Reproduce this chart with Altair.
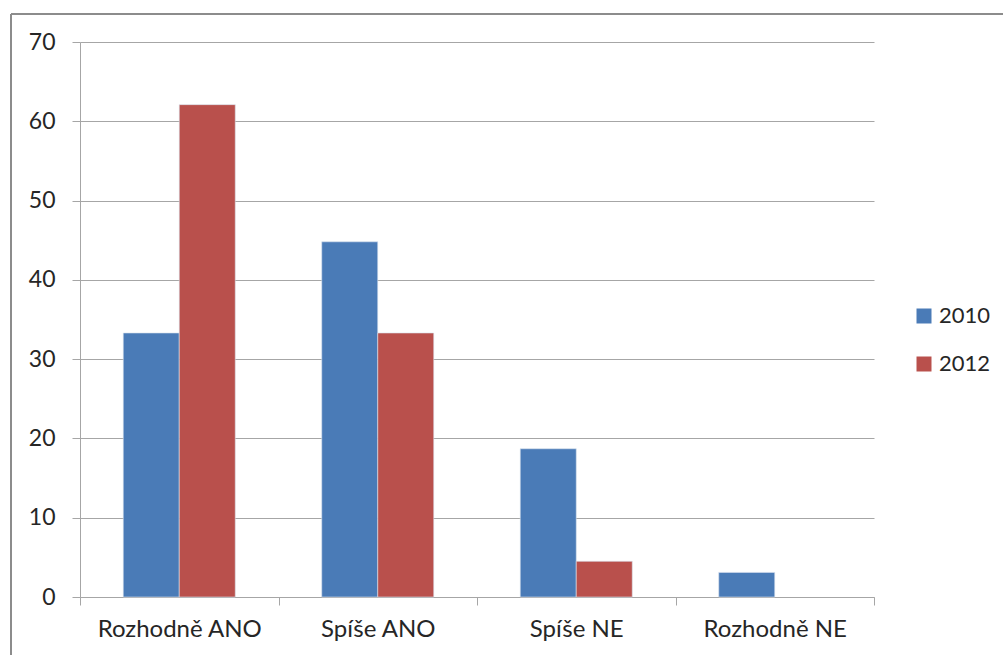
import altair as alt
import pandas as pd

categories = ["Rozhodně ANO", "Spíše ANO", "Spíše NE", "Rozhodně NE"]
years = ["2010", "2012"]
values_2010 = [33.3, 44.8, 18.7, 3.1]
values_2012 = [62.1, 33.3, 4.5, 0.0]
y_ticks = [0, 10, 20, 30, 40, 50, 60, 70]
colors = ["#4A7BB7", "#B9504C"]

rows = []
for c, a, b in zip(categories, values_2010, values_2012):
    rows.append({"category": c, "year": years[0], "value": a})
    rows.append({"category": c, "year": years[1], "value": b})
df = pd.DataFrame(rows)

FONT = "Lato"
GRAY = "#a6a6a6"
TEXT = "#262626"

bars = alt.Chart(df).mark_bar(strokeWidth=1).encode(
    x=alt.X("category:N", sort=categories,
            scale=alt.Scale(paddingInner=0, paddingOuter=0),
            axis=alt.Axis(title=None, labelAngle=0, tickBand="extent", grid=False,
                          domainColor=GRAY, tickColor=GRAY, tickSize=8,
                          labelFontSize=24, labelFont=FONT, labelColor=TEXT,
                          labelPadding=12)),
    xOffset=alt.XOffset("year:N", sort=years,
                        scale=alt.Scale(paddingInner=0, paddingOuter=0.772)),
    y=alt.Y("value:Q", scale=alt.Scale(domain=[0, 70], nice=False),
            axis=alt.Axis(title=None, values=y_ticks, grid=True, gridColor=GRAY,
                          domainColor=GRAY, tickColor=GRAY, tickSize=8,
                          labelFontSize=23, labelFont=FONT, labelColor=TEXT,
                          labelPadding=17)),
    color=alt.Color("year:N", sort=years,
                    scale=alt.Scale(domain=years, range=colors),
                    legend=alt.Legend(title=None, orient="none", legendX=833, legendY=263,
                                      symbolType="square", symbolSize=225,
                                      symbolStrokeWidth=0,
                                      labelFontSize=22, labelFont=FONT, labelColor=TEXT,
                                      rowPadding=26, labelOffset=4)),
    stroke=alt.condition(alt.datum.value > 0, alt.value("#dbe3ee"), alt.value(None)),
    strokeOpacity=alt.value(0.6),
)

border_df = pd.DataFrame({"k": [0]})
top_border = alt.Chart(border_df).mark_rule(color="#8c8c8c", strokeWidth=2).encode(
    x=alt.value(-69), x2=alt.value(940), y=alt.value(-28)
)
left_border = alt.Chart(border_df).mark_rule(color="#8c8c8c", strokeWidth=2).encode(
    x=alt.value(-69), y=alt.value(-28), y2=alt.value(640)
)

chart = alt.layer(bars, top_border, left_border).properties(
    width=794, height=555,
    padding={"left": 80, "top": 42, "right": 129, "bottom": 58},
    autosize=alt.AutoSizeParams(type="none"),
    background="white",
).configure_view(stroke=None)

chart.save("out.html", embed_options={"renderer": "svg", "actions": False})
